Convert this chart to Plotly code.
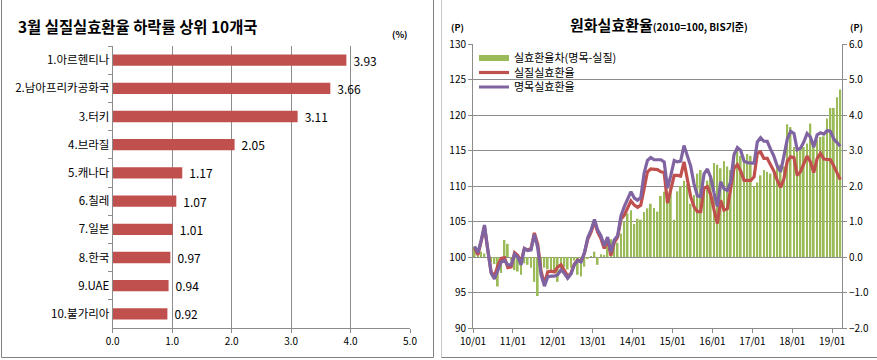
import plotly.graph_objects as go
import pandas as pd

# ---------------- Left chart data ----------------
countries = ["1.아르헨티나", "2.남아프리카공화국", "3.터키", "4.브라질", "5.캐나다",
             "6.칠레", "7.일본", "8.한국", "9.UAE", "10.불가리아"]
decline = [3.93, 3.66, 3.11, 2.05, 1.17, 1.07, 1.01, 0.97, 0.94, 0.92]
left_ticks = [0, 1, 2, 3, 4, 5]

# ---------------- Right chart data (monthly 2010/01 - 2019/03) ----------------
months = pd.date_range("2010-01-01", periods=111, freq="MS").strftime("%Y-%m").tolist()

nominal = [
    101.5, 100.6, 102.3, 104.5, 101.0, 97.7, 96.9, 98.2, 99.3, 99.5, 98.9, 98.9,
    100.4, 100.0, 98.9, 101.2, 100.9, 101.0, 103.2, 101.3, 97.5, 95.9, 97.2, 97.3,
    97.3, 97.5, 98.2, 97.7, 97.0, 97.6, 98.9, 99.5, 99.3, 100.6, 102.7, 103.8,
    105.3, 103.8, 103.0, 101.6, 102.8, 100.7, 102.4, 103.0, 105.8, 107.1, 108.2, 109.2,
    108.3, 108.0, 108.4, 111.8, 113.6, 114.0, 113.7, 113.75, 113.7, 113.4, 109.7, 111.5,
    113.6, 113.4, 113.5, 115.7, 114.3, 112.8, 110.3, 108.6, 108.5, 111.7, 112.4, 111.2,
    109.0, 107.1, 110.6, 109.6, 109.4, 110.6, 114.4, 115.4, 115.0, 113.5, 113.3, 113.2,
    113.2, 116.2, 116.8, 116.3, 116.3, 115.2, 114.2, 112.8, 112.0, 114.2, 116.6, 117.7,
    117.4, 115.1, 115.3, 116.2, 117.4, 116.9, 115.5, 117.2, 117.5, 117.3, 117.8, 117.7,
    116.6, 116.1, 115.6,
]
real = [
    101.3, 100.3, 102.2, 104.3, 101.0, 97.9, 97.3, 98.8, 99.8, 99.9, 98.5, 98.6,
    100.6, 100.2, 99.3, 101.2, 101.0, 101.2, 103.4, 101.8, 98.0, 96.2, 97.9, 98.0,
    97.9, 98.6, 98.9, 98.0, 97.3, 97.7, 99.0, 99.6, 99.4, 100.5, 102.5, 103.5,
    105.0, 103.5, 102.6, 101.2, 102.5, 100.2, 102.0, 102.8, 105.3, 105.9, 107.0, 107.9,
    107.3, 107.0, 107.3, 109.8, 112.0, 112.4, 112.3, 112.3, 112.0, 111.9, 107.6, 109.5,
    111.5, 111.5, 111.4, 113.4, 111.2, 108.5, 107.1, 106.4, 106.4, 109.7, 109.9, 108.8,
    106.6, 104.7, 108.0, 106.6, 106.8, 109.9, 112.5, 113.0, 112.1, 110.8, 110.8, 110.8,
    111.3, 114.6, 114.8, 113.9, 113.9, 113.0, 112.1, 110.8, 109.8, 111.0, 113.5, 114.1,
    114.0, 111.5, 112.0, 113.1, 114.2, 113.4, 111.9, 113.9, 114.6, 113.8, 113.8, 113.7,
    112.8, 111.9, 110.9,
]
gap = [
    0.3, 0.25, 0.15, 0.1, 0.0, -0.15, -0.2, -0.83, -0.45, 0.48, 0.37, -0.1,
    -0.37, -0.41, -0.5, -0.18, -0.22, -0.3, -0.7, -1.1, -0.55, -0.3, -0.35, -0.4,
    -0.45, -0.7, -0.35, -0.28, -0.35, -0.3, -0.1, -0.5, -0.55, -0.27, -0.05, 0.02,
    0.15, -0.22, 0.08, 0.06, 0.3, 0.5, 0.35, 0.4, 0.66, 1.0, 1.23, 1.32,
    0.93, 1.08, 1.05, 1.27, 1.37, 1.5, 1.38, 1.28, 1.72, 1.84, 1.6, 1.95,
    1.05, 1.85, 2.0, 2.15, 2.05, 1.5, 1.75, 2.35, 2.45, 2.0, 2.15, 2.3,
    2.65, 2.6, 2.5, 2.7, 2.55, 2.45, 2.95, 3.0, 2.85, 2.8, 2.9, 2.85,
    2.0, 2.1, 2.3, 2.45, 2.4, 2.35, 2.45, 2.55, 2.6, 2.55, 3.74, 3.66,
    3.1, 3.0, 3.05, 3.1, 3.2, 3.76, 3.24, 3.3, 3.38, 3.4, 3.9, 4.2,
    4.2, 4.5, 4.72,
]

series_names = ["실효환율차(명목-실질)", "실질실효환율", "명목실효환율"]

# ---------------- Styling ----------------
W, H = 877, 360
FONT = "Noto Sans CJK KR"
GRID = "#8c8c8c"
RED = "#C0504D"
PURPLE = "#8064A2"
GREEN = "#9BBB59"


def fx(p):
    return p / W


def fy(p):
    return 1 - p / H


fig = go.Figure()

# Left: horizontal bars
fig.add_trace(go.Bar(
    x=decline, y=countries, orientation="h",
    marker=dict(color=RED, line=dict(width=0)),
    width=0.4,
    texttemplate="\u2004%{x:.2f}", textposition="outside", constraintext="none",
    textfont=dict(size=12, color="#000", family=FONT),
    cliponaxis=False, showlegend=False, hoverinfo="skip",
    xaxis="x", yaxis="y",
))

# Right: bars (gap) on right axis
fig.add_trace(go.Bar(
    x=months, y=gap, xperiod="M1", xperiodalignment="middle",
    marker=dict(color=GREEN, line=dict(width=0)),
    width=16 * 86400000,
    showlegend=False, hoverinfo="skip",
    xaxis="x2", yaxis="y3",
))
# legend entry for bars (flat green band)
fig.add_trace(go.Scatter(
    x=[None], y=[None], mode="lines",
    line=dict(color=GREEN, width=6),
    name=series_names[0], xaxis="x2", yaxis="y3", legend="legend",
))
fig.add_trace(go.Scatter(
    x=months, y=real, xperiod="M1", xperiodalignment="middle",
    mode="lines", line=dict(color=RED, width=3.2),
    name=series_names[1], xaxis="x2", yaxis="y4", legend="legend2",
))
fig.add_trace(go.Scatter(
    x=months, y=nominal, xperiod="M1", xperiodalignment="middle",
    mode="lines", line=dict(color=PURPLE, width=3.2),
    name=series_names[2], xaxis="x2", yaxis="y4", legend="legend3",
))

axis_common = dict(showline=True, linecolor=GRID, linewidth=1, ticks="outside",
                   tickcolor=GRID, ticklen=4, zeroline=False, automargin=False,
                   tickfont=dict(size=10, color="#000", family=FONT))


def legend_at(ycenter):
    return dict(x=fx(474), y=fy(ycenter), xanchor="left", yanchor="middle",
                bgcolor="rgba(0,0,0,0)", font=dict(size=11, family=FONT),
                itemwidth=30, borderwidth=0)


fig.update_layout(
    width=W, height=H,
    margin=dict(l=0, r=0, t=0, b=0, autoexpand=False),
    paper_bgcolor="white", plot_bgcolor="rgba(0,0,0,0)",
    font=dict(family=FONT, color="#000"),
    xaxis=dict(domain=[fx(112.7), fx(410)], anchor="y", range=[0, 5],
               tickvals=left_ticks, tickformat=".1f",
               showgrid=True, gridcolor=GRID, gridwidth=1,
               **axis_common),
    yaxis=dict(domain=[fy(328), fy(46)], anchor="x", autorange="reversed",
               tickson="boundaries", showgrid=False,
               **{**axis_common, "tickfont": dict(size=11.5, color="#000", family=FONT)}),
    xaxis2=dict(domain=[fx(473), fx(842)], anchor="y3", type="date",
                range=["2010-01-01", "2019-04-01"], dtick="M12", tick0="2010-01-01",
                tickformat="%y/%m", showgrid=False, **axis_common),
    yaxis3=dict(domain=[fy(328), fy(44)], anchor="x2", side="right",
                range=[-2, 6], dtick=1, tickformat=".1f",
                showgrid=True, gridcolor=GRID, gridwidth=1, **axis_common),
    yaxis4=dict(anchor="x2", overlaying="y3", side="left",
                range=[90, 130], dtick=5, showgrid=False, **axis_common),
    legend=legend_at(58),
    legend2=legend_at(72.5),
    legend3=legend_at(87),
    showlegend=True,
    annotations=[
        dict(text="<b>3월 실질실효환율 하락률 상위 10개국</b>", x=fx(16), y=fy(26),
             xref="paper", yref="paper", xanchor="left", yanchor="middle",
             showarrow=False, font=dict(size=15.4, family=FONT)),
        dict(text="<b>(%)</b>", x=fx(399), y=fy(34), xref="paper", yref="paper",
             xanchor="center", yanchor="middle", showarrow=False,
             font=dict(size=9, family=FONT)),
        dict(text="<b>원화실효환율</b><b><span style='font-size:10px'>(2010=100, BIS기준)</span></b>",
             x=fx(568), y=fy(25), xref="paper", yref="paper", xanchor="left",
             yanchor="middle", showarrow=False, font=dict(size=15, family=FONT)),
        dict(text="<b>(P)</b>", x=fx(457), y=fy(28), xref="paper", yref="paper",
             xanchor="center", yanchor="middle", showarrow=False,
             font=dict(size=9, family=FONT)),
        dict(text="<b>(P)</b>", x=fx(856), y=fy(28), xref="paper", yref="paper",
             xanchor="center", yanchor="middle", showarrow=False,
             font=dict(size=9, family=FONT)),
    ],
    shapes=[
        dict(type="rect", xref="paper", yref="paper", x0=fx(1.5), x1=fx(433.5),
             y0=fy(357.5), y1=fy(-2), line=dict(color="#808080", width=1)),
        dict(type="line", xref="paper", yref="paper", x0=fx(441.5), x1=fx(441.5),
             y0=fy(357.5), y1=fy(-2), line=dict(color="#c8c8c8", width=1)),
        dict(type="line", xref="paper", yref="paper", x0=fx(441.5), x1=fx(878),
             y0=fy(357.5), y1=fy(357.5), line=dict(color="#808080", width=1)),
    ],
)

fig.write_html(
    "out.html",
    config={"displayModeBar": False},
    post_script="document.body.style.margin='0';document.body.style.padding='0';",
)
